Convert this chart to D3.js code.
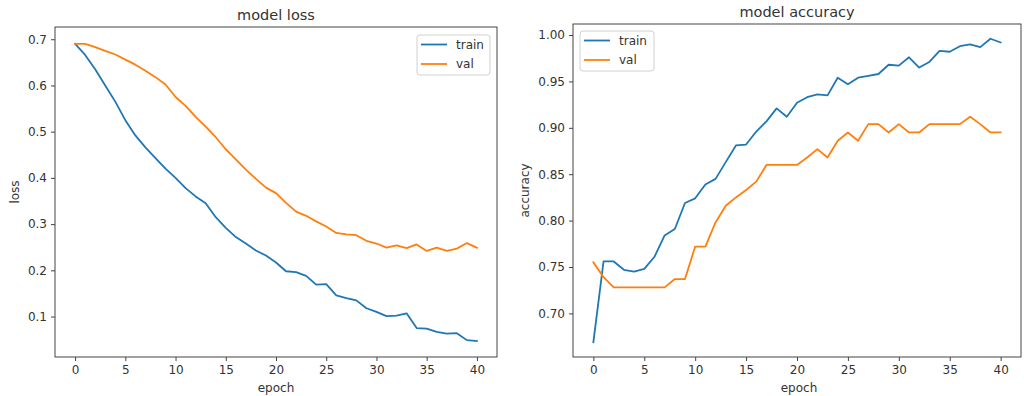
<!DOCTYPE html>
<html>
<head>
<meta charset="utf-8">
<script src="https://cdn.jsdelivr.net/npm/d3@7"></script>
<style>
  html, body { margin: 0; padding: 0; background: #fff; }
  svg { display: block; font-family: "DejaVu Sans", sans-serif; }
</style>
</head>
<body>
<svg id="chart" width="1024" height="396"></svg>
<script>
// Training history, one value per epoch (0..40)
const epochs = d3.range(0, 41);

const trainLoss = [0.690, 0.666, 0.635, 0.600, 0.565, 0.525, 0.492, 0.466, 0.443, 0.420, 0.400,
  0.378, 0.360, 0.345, 0.315, 0.292, 0.272, 0.258, 0.243, 0.232, 0.217,
  0.198, 0.196, 0.188, 0.169, 0.170, 0.146, 0.140, 0.135, 0.118, 0.110,
  0.101, 0.102, 0.107, 0.075, 0.074, 0.067, 0.063, 0.064, 0.049, 0.047];

const valLoss = [0.690, 0.690, 0.683, 0.675, 0.667, 0.656, 0.645, 0.632, 0.618, 0.602, 0.575,
  0.556, 0.532, 0.511, 0.488, 0.462, 0.440, 0.418, 0.398, 0.379, 0.367,
  0.346, 0.327, 0.318, 0.306, 0.295, 0.281, 0.278, 0.276, 0.264, 0.258,
  0.249, 0.254, 0.248, 0.256, 0.242, 0.249, 0.242, 0.247, 0.259, 0.249];

const trainAcc = [0.669, 0.756, 0.756, 0.747, 0.745, 0.748, 0.761, 0.784, 0.791, 0.819, 0.824,
  0.839, 0.845, 0.863, 0.881, 0.882, 0.896, 0.907, 0.921, 0.912, 0.927,
  0.933, 0.936, 0.935, 0.954, 0.947, 0.954, 0.956, 0.958, 0.968, 0.967,
  0.976, 0.965, 0.971, 0.983, 0.982, 0.988, 0.990, 0.987, 0.996, 0.992];

const valAcc = [0.755, 0.739, 0.728, 0.728, 0.728, 0.728, 0.728, 0.728, 0.737, 0.737, 0.772,
  0.772, 0.798, 0.816, 0.825, 0.833, 0.842, 0.860, 0.860, 0.860, 0.860,
  0.868, 0.877, 0.868, 0.886, 0.895, 0.886, 0.904, 0.904, 0.895, 0.904,
  0.895, 0.895, 0.904, 0.904, 0.904, 0.904, 0.912, 0.904, 0.895, 0.895];

const xTicks = [0, 5, 10, 15, 20, 25, 30, 35, 40];
const lossTicks = [0.1, 0.2, 0.3, 0.4, 0.5, 0.6, 0.7];
const accTicks = [0.70, 0.75, 0.80, 0.85, 0.90, 0.95, 1.00];
const seriesNames = ["train", "val"];

const colors = ["#1f77b4", "#ff7f0e"];
const textColor = "#333";
const frameColor = "#444";

const svg = d3.select("#chart");

function panel(opts) {
  const { left, right, top, bottom } = opts.box;
  const x = d3.scaleLinear().domain([-2, 42]).range([left, right]);
  const y = d3.scaleLinear().domain(opts.yDomain).range([bottom, top]);
  const g = svg.append("g");

  // Axes
  const xAxis = g.append("g")
    .attr("transform", `translate(0,${bottom})`)
    .call(d3.axisBottom(x).tickValues(xTicks).tickFormat(d3.format("d")).tickSize(4).tickPadding(4));
  const yAxis = g.append("g")
    .attr("transform", `translate(${left},0)`)
    .call(d3.axisLeft(y).tickValues(opts.yTicks).tickFormat(d3.format(opts.yFormat)).tickSize(4).tickPadding(4));
  [xAxis, yAxis].forEach(a => {
    a.select(".domain").remove();
    a.selectAll(".tick line").attr("stroke", frameColor).attr("stroke-width", 1);
    a.selectAll(".tick text").attr("fill", textColor).style("font-size", "12px")
      .style("font-family", "DejaVu Sans, sans-serif");
  });

  // Series lines
  const line = d3.line().x((d, i) => x(epochs[i])).y(d => y(d));
  opts.series.forEach((s, k) => {
    g.append("path").datum(s)
      .attr("fill", "none")
      .attr("stroke", colors[k])
      .attr("stroke-width", 1.8)
      .attr("stroke-linejoin", "round")
      .attr("stroke-linecap", "square")
      .attr("d", line);
  });

  // Frame
  g.append("rect")
    .attr("x", left).attr("y", top)
    .attr("width", right - left).attr("height", bottom - top)
    .attr("fill", "none").attr("stroke", frameColor).attr("stroke-width", 1);

  // Title and axis labels
  g.append("text")
    .attr("x", (left + right) / 2).attr("y", top - 7)
    .attr("text-anchor", "middle")
    .attr("fill", textColor).style("font-size", "14.5px")
    .text(opts.title);
  g.append("text")
    .attr("x", (left + right) / 2 + opts.xLabelShift).attr("y", 392)
    .attr("text-anchor", "middle")
    .attr("fill", textColor).style("font-size", "12px")
    .text("epoch");
  g.append("text")
    .attr("transform", `translate(${opts.yLabelX},${(top + bottom) / 2}) rotate(-90)`)
    .attr("text-anchor", "middle")
    .attr("fill", textColor).style("font-size", "12px")
    .text(opts.yLabel);

  // Legend
  const L = opts.legend;
  const lg = g.append("g").attr("transform", `translate(${L.x},${L.y})`);
  lg.append("rect")
    .attr("width", L.w).attr("height", 40)
    .attr("rx", 3).attr("ry", 3)
    .attr("fill", "#fff").attr("fill-opacity", 0.8)
    .attr("stroke", "#d0d0d0").attr("stroke-width", 1);
  seriesNames.forEach((name, k) => {
    const cy = 9.5 + k * 19.5;
    lg.append("line")
      .attr("x1", 4).attr("x2", 30).attr("y1", cy).attr("y2", cy)
      .attr("stroke", colors[k]).attr("stroke-width", 1.8);
    lg.append("text")
      .attr("x", 39).attr("y", cy).attr("dy", "0.35em")
      .attr("fill", textColor).style("font-size", "12px")
      .text(name);
  });
}

panel({
  box: { left: 55, right: 497, top: 27, bottom: 357 },
  yDomain: [0.0125, 0.7265],
  yTicks: lossTicks,
  yFormat: ".1f",
  series: [trainLoss, valLoss],
  title: "model loss",
  yLabel: "loss",
  yLabelX: 19,
  xLabelShift: 0,
  legend: { x: 417, y: 35, w: 73 }
});

panel({
  box: { left: 573, right: 1021, top: 24, bottom: 357 },
  yDomain: [0.6530, 1.0119],
  yTicks: accTicks,
  yFormat: ".2f",
  series: [trainAcc, valAcc],
  title: "model accuracy",
  yLabel: "accuracy",
  yLabelX: 529,
  xLabelShift: 2,
  legend: { x: 580, y: 31, w: 74 }
});
</script>
</body>
</html>
